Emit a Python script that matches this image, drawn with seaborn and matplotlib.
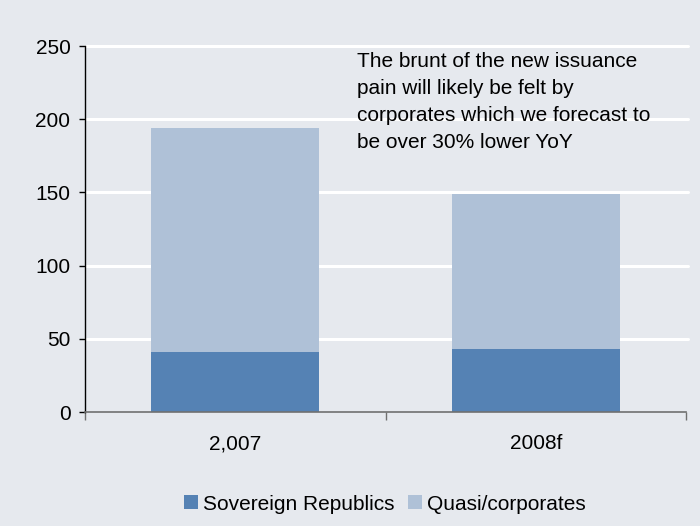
import matplotlib
matplotlib.use("Agg")
import matplotlib.pyplot as plt
import seaborn as sns
import pandas as pd
from matplotlib.patches import Patch
from matplotlib.ticker import FixedLocator

categories = ["2,007", "2008f"]
sovereign = [41, 43]
quasi = [153, 106]
series_names = ["Sovereign Republics", "Quasi/corporates"]
note = ("The brunt of the new issuance\npain will likely be felt by\n"
        "corporates which we forecast to\nbe over 30% lower YoY")

dark = "#5582B4"
light = "#AFC1D7"
bg = "#E6E9EE"

sns.set_theme(style="white")
plt.rcParams['font.family'] = ['Liberation Sans', 'DejaVu Sans']
plt.rcParams['text.color'] = 'black'

df = pd.DataFrame({"cat": categories, "sov": sovereign, "quasi": quasi})
df["total"] = df["sov"] + df["quasi"]

fig = plt.figure(figsize=(7.0, 5.26), dpi=100, facecolor=bg)
ax = fig.add_axes([85/700, 1-412/526, (686-85)/700, (412-46)/526])
ax.set_facecolor(bg)

for y in [50, 100, 150, 200, 250]:
    ax.axhline(y, color="white", lw=2.2, zorder=0, xmax=1.003, clip_on=False)

sns.barplot(data=df, x="cat", y="total", color=light, width=0.56,
            saturation=1, ax=ax, zorder=2, linewidth=0)
sns.barplot(data=df, x="cat", y="sov", color=dark, width=0.56,
            saturation=1, ax=ax, zorder=3, linewidth=0)

ax.set_xlim(-0.5, 1.5)
ax.set_ylim(0, 250)
ax.set_yticks([0, 50, 100, 150, 200, 250])
ax.set_xlabel("")
ax.set_ylabel("")

for s in ["top", "right"]:
    ax.spines[s].set_visible(False)
ax.spines["left"].set_color("black")
ax.spines["left"].set_linewidth(1.0)
ax.spines["bottom"].set_color("#707070")
ax.spines["bottom"].set_linewidth(1.2)
ax.spines["left"].set_zorder(4)
ax.spines["bottom"].set_zorder(4)

ax.tick_params(axis="y", which="major", left=True, length=4.5, width=1,
               color="black", labelsize=15, labelcolor="black", pad=6)
ax.tick_params(axis="x", which="major", bottom=False, labelsize=15,
               labelcolor="black", pad=10)
ax.xaxis.set_minor_locator(FixedLocator([-0.5, 0.5, 1.5]))
ax.tick_params(axis="x", which="minor", bottom=True, length=6, width=1,
               color="#707070")

ax.text(357/700, 1-52/526, note, transform=fig.transFigure, fontsize=15,
        va="top", ha="left", color="black", linespacing=1.53)

handles = [Patch(facecolor=dark, edgecolor="none"),
           Patch(facecolor=light, edgecolor="none")]
fig.legend(handles, series_names, loc="center",
           bbox_to_anchor=(385/700, 1-504/526),
           ncol=2, frameon=False, fontsize=15, handlelength=0.65,
           handleheight=0.65, handletextpad=0.25, columnspacing=0.65,
           borderpad=0, borderaxespad=0, labelcolor="black")

fig.savefig("out.png", dpi=100, facecolor=bg)
